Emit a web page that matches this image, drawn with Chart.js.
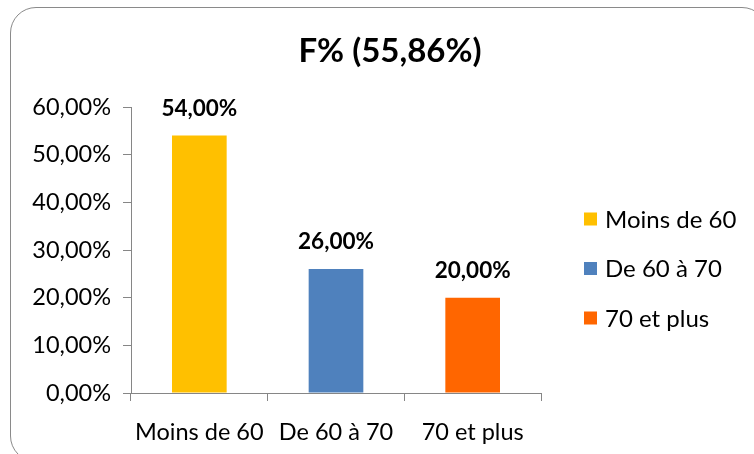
<!DOCTYPE html>
<html>
<head>
<meta charset="utf-8">
<script src="https://cdn.jsdelivr.net/npm/chart.js@4/dist/chart.umd.min.js"></script>
<style>
  body { margin: 0; background: #fff; }
  #wrap { position: relative; width: 754px; height: 454px; overflow: hidden; }
  #frame {
    position: absolute; left: 10px; top: 7px; width: 758px; height: 455px;
    border: 1.5px solid #8a8a8a; border-radius: 26px; box-sizing: border-box;
  }
  #chart { position: absolute; left: 0; top: 0; }
</style>
</head>
<body>
<div id="wrap">
  <div id="frame"></div>
  <canvas id="chart" width="754" height="454"></canvas>
</div>
<script>
const categories = ['Moins de 60', 'De 60 à 70', '70 et plus'];
const shares = [54, 26, 20];
const barColors = ['#FFC000', '#4F81BD', '#FF6600'];
const chartTitle = 'F% (55,86%)';

const FONT = 'Lato, "Open Sans", sans-serif';

function pct(v) {
    return v.toFixed(2).replace('.', ',') + '%';
}

// heading, centred over the whole frame rather than the plot
const heading = {
    id: 'heading',
    afterDraw(chart) {
        const ctx = chart.ctx;
        ctx.save();
        ctx.font = 'bold 33px ' + FONT;
        ctx.fillStyle = '#000';
        ctx.textAlign = 'center';
        ctx.textBaseline = 'middle';
        ctx.fillText(chartTitle, 390, 51);
        ctx.restore();
    }
};

// value labels above each bar
const valueLabels = {
    id: 'valueLabels',
    afterDatasetsDraw(chart) {
        const ctx = chart.ctx;
        const meta = chart.getDatasetMeta(0);
        ctx.save();
        ctx.font = 'bold 22.5px ' + FONT;
        ctx.fillStyle = '#000';
        ctx.textAlign = 'center';
        ctx.textBaseline = 'middle';
        meta.data.forEach((bar, i) => {
            ctx.fillText(pct(chart.data.datasets[0].data[i]), bar.x, bar.y - 27);
        });
        ctx.restore();
    }
};

// legend drawn on the right, one entry per category
const sideLegend = {
    id: 'sideLegend',
    afterDraw(chart) {
        const ctx = chart.ctx;
        const ds = chart.data.datasets[0];
        ctx.save();
        ctx.font = '24px ' + FONT;
        ctx.textBaseline = 'middle';
        chart.data.labels.forEach((label, i) => {
            const y = 219 + i * 49.5;
            ctx.fillStyle = ds.backgroundColor[i];
            ctx.fillRect(584, y - 6.5, 13, 13);
            ctx.fillStyle = '#000';
            ctx.fillText(label, 605, y + 1);
        });
        ctx.restore();
    }
};

new Chart(document.getElementById('chart'), {
    type: 'bar',
    data: {
        labels: categories,
        datasets: [{
            data: shares,
            backgroundColor: barColors,
            barPercentage: 0.4,
            categoryPercentage: 1
        }]
    },
    options: {
        responsive: false,
        animation: false,
        layout: { padding: { left: 15, right: 213, top: 107, bottom: 0 } },
        plugins: {
            legend: { display: false },
            tooltip: { enabled: false },
            title: { display: false }
        },
        scales: {
            y: {
                min: 0,
                max: 60,
                ticks: {
                    stepSize: 10,
                    color: '#000',
                    padding: 12,
                    font: { family: FONT, size: 23.5 },
                    callback: v => pct(v)
                },
                grid: { drawOnChartArea: false, drawTicks: true, tickLength: 8, color: '#868686' },
                border: { color: '#868686', width: 1 },
                afterFit(scale) { scale.width = 116; }
            },
            x: {
                ticks: {
                    color: '#000',
                    padding: 17,
                    font: { family: FONT, size: 23.5 },
                    maxRotation: 0
                },
                grid: { drawOnChartArea: false, drawTicks: true, tickLength: 8, color: '#868686', offset: true },
                border: { color: '#868686', width: 1 },
                afterFit(scale) { scale.height = 61; }
            }
        }
    },
    plugins: [valueLabels, sideLegend, heading]
});
</script>
</body>
</html>
